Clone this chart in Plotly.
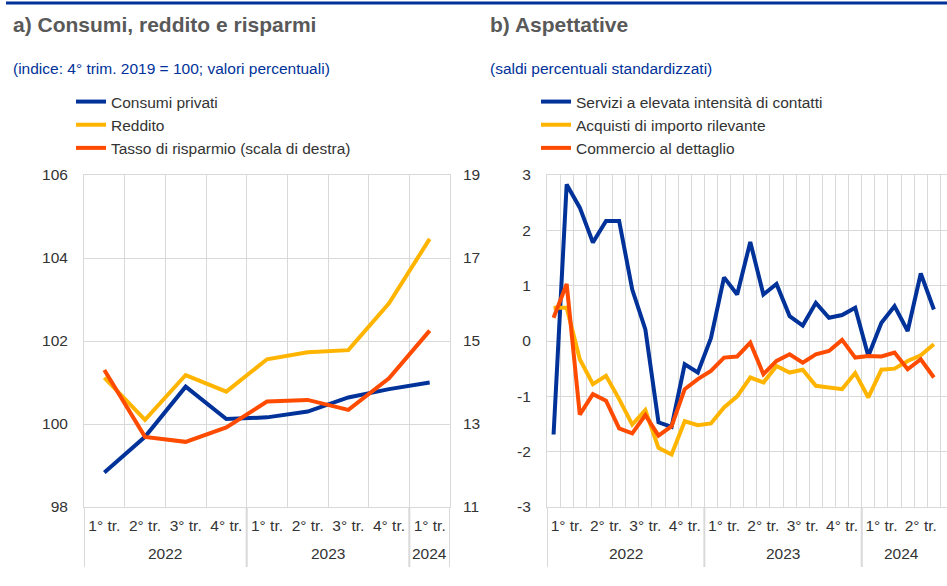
"""Consumi, reddito e risparmi / Aspettative: two panels on one page."""
from plotly import graph_objects as go

BLU = "#003299"
GIALLO = "#FFB400"
ARANCIO = "#FF4B00"
GRIGLIA = "#d9d9d9"
TESTO = "#333333"
FONT = "Arial, Liberation Sans, sans-serif"

# panel a) quarterly data
anni_a = ["2022"] * 4 + ["2023"] * 4 + ["2024"]
trim_a = ["1° tr.", "2° tr.", "3° tr.", "4° tr."] * 2 + ["1° tr."]
consumi = [98.83, 99.69, 100.90, 100.12, 100.16, 100.30, 100.64, 100.84, 101.00]
reddito = [101.12, 100.10, 101.18, 100.78, 101.56, 101.73, 101.78, 102.91, 104.46]
risparmio = [14.30, 12.69, 12.57, 12.92, 13.54, 13.58, 13.34, 14.10, 15.25]

# panel b) monthly data, Jan 2022 - Jun 2024
mesi = [f"{a}-{m:02d}" for a in (2022, 2023) for m in range(1, 13)] + [
    f"2024-{m:02d}" for m in range(1, 7)
]
servizi = [-1.69, 2.83, 2.41, 1.78, 2.17, 2.17, 0.93, 0.21, -1.47, -1.55,
           -0.42, -0.57, 0.05, 1.15, 0.84, 1.79, 0.84, 1.03, 0.45, 0.28,
           0.69, 0.42, 0.47, 0.60, -0.27, 0.33, 0.63, 0.18, 1.22, 0.57]
acquisti = [0.60, 0.60, -0.33, -0.78, -0.63, -1.05, -1.51, -1.25, -1.93, -2.05,
            -1.45, -1.52, -1.49, -1.20, -1.00, -0.66, -0.75, -0.45, -0.57, -0.52,
            -0.81, -0.84, -0.87, -0.58, -1.02, -0.52, -0.50, -0.36, -0.26, -0.06]
commercio = [0.42, 1.03, -1.33, -0.96, -1.08, -1.58, -1.67, -1.34, -1.71, -1.54,
             -0.87, -0.69, -0.54, -0.30, -0.28, -0.03, -0.60, -0.36, -0.24, -0.39,
             -0.24, -0.18, 0.02, -0.30, -0.27, -0.28, -0.21, -0.51, -0.33, -0.66]
anni_b = ["2022"] * 4 + ["2023"] * 4 + ["2024"] * 2
trim_b = ["1° tr.", "2° tr.", "3° tr.", "4° tr."] * 2 + ["1° tr.", "2° tr."]

tick_sx = [98, 100, 102, 104, 106]
tick_dx = [11, 13, 15, 17, 19]
tick_b = [-3, -2, -1, 0, 1, 2, 3]

W, H = 947, 586
dom_y = [1 - 507 / H, 1 - 175 / H]

fig = go.Figure()

x_a = list(range(len(trim_a)))
fig.add_trace(go.Scatter(x=x_a, y=consumi, name="Consumi privati", mode="lines",
                         line=dict(color=BLU, width=4)))
fig.add_trace(go.Scatter(x=x_a, y=reddito, name="Reddito", mode="lines",
                         line=dict(color=GIALLO, width=4)))
fig.add_trace(go.Scatter(x=x_a, y=risparmio, name="Tasso di risparmio (scala di destra)",
                         mode="lines", yaxis="y2", line=dict(color=ARANCIO, width=4)))

x_b = list(range(len(mesi)))
for nome, valori, colore in [
    ("Servizi a elevata intensità di contatti", servizi, BLU),
    ("Acquisti di importo rilevante", acquisti, GIALLO),
    ("Commercio al dettaglio", commercio, ARANCIO),
]:
    fig.add_trace(go.Scatter(x=x_b, y=valori, name=nome, mode="lines", xaxis="x3",
                             yaxis="y3", legend="legend2",
                             line=dict(color=colore, width=4)))

tick_font = dict(family=FONT, size=15.5, color=TESTO)
asse = dict(showgrid=True, gridcolor=GRIGLIA, gridwidth=1, zeroline=False,
            showline=True, linecolor=GRIGLIA, mirror=True, ticks="",
            tickfont=tick_font, automargin=False)
# grid on the period boundaries, quarter labels on the period centres
asse_x = dict(asse, showgrid=False, ticklabelstandoff=4, tickangle=0,
              minor=dict(tick0=-0.5, dtick=1, showgrid=True, gridcolor=GRIGLIA,
                         ticks=""))
legenda = dict(y=1 - 85 / H, xanchor="left", yanchor="top",
               font=dict(family=FONT, size=15.5, color=TESTO),
               bgcolor="rgba(0,0,0,0)", tracegroupgap=0)

range_b = [-0.5, 30]
fig.update_layout(
    width=W,
    height=H,
    margin=dict(l=0, r=0, t=0, b=0, autoexpand=False),
    paper_bgcolor="white",
    plot_bgcolor="white",
    font=dict(family=FONT, color=TESTO),
    xaxis=dict(asse_x, domain=[84 / W, 450 / W], anchor="y", range=[-0.5, 8.5],
               tickvals=x_a, ticktext=trim_a),
    yaxis=dict(asse, domain=dom_y, anchor="x", range=[98, 106],
               tickvals=tick_sx, ticktext=[str(v) for v in tick_sx],
               ticklabelstandoff=12),
    yaxis2=dict(overlaying="y", side="right", anchor="x", range=[11, 19],
                tickvals=tick_dx, ticktext=[str(v) for v in tick_dx],
                showgrid=False, zeroline=False, tickfont=tick_font,
                ticklabelstandoff=12, automargin=False),
    xaxis3=dict(asse_x, domain=[547 / W, 1], anchor="y3", range=range_b,
                tickvals=[3 * q + 1 for q in range(len(trim_b))], ticktext=trim_b),
    yaxis3=dict(asse, domain=dom_y, anchor="x3", range=[-3, 3],
                tickvals=tick_b, ticktext=[str(v) for v in tick_b],
                ticklabelstandoff=12),
    legend=dict(legenda, x=71 / W),
    legend2=dict(legenda, x=536 / W),
    showlegend=True,
)


def anni_asse(anni, passo, xref, fine, chiudi):
    """Year labels under the quarter labels and the dividers between years."""
    gruppi = []
    for i, a in enumerate(anni):
        if not gruppi or gruppi[-1][0] != a:
            gruppi.append([a, i, i])
        gruppi[-1][2] = i
    for a, i0, i1 in gruppi:
        x0 = i0 * passo - 0.5
        x1 = min((i1 + 1) * passo - 0.5, fine)
        fig.add_annotation(x=(x0 + x1) / 2, y=dom_y[0], xref=xref, yref="paper",
                           yshift=-46, yanchor="middle", showarrow=False, text=a,
                           font=tick_font)
        fig.add_shape(type="line", xref=xref, yref="paper", x0=x0, x1=x0,
                      y0=dom_y[0], y1=dom_y[0] - 60 / H,
                      line=dict(color=GRIGLIA, width=2))
    if chiudi:
        x1 = (gruppi[-1][2] + 1) * passo - 0.5
        fig.add_shape(type="line", xref=xref, yref="paper", x0=x1, x1=x1,
                      y0=dom_y[0], y1=dom_y[0] - 60 / H,
                      line=dict(color=GRIGLIA, width=2))


anni_asse(anni_a, 1, "x", 8.5, True)
anni_asse(anni_b, 3, "x3", range_b[1], False)

# top rule
fig.add_shape(type="line", xref="paper", yref="paper", x0=6 / W, x1=1,
              y0=1 - 3 / H, y1=1 - 3 / H, line=dict(color=BLU, width=3))

titoli = [
    (11, "a) Consumi, reddito e risparmi", "(indice: 4° trim. 2019 = 100; valori percentuali)"),
    (488, "b) Aspettative", "(saldi percentuali standardizzati)"),
]
for x0, titolo, sottotitolo in titoli:
    fig.add_annotation(x=x0 / W, y=1 - 25 / H, xref="paper", yref="paper",
                       xanchor="left", yanchor="middle", showarrow=False,
                       text=f"<b>{titolo}</b>",
                       font=dict(family=FONT, size=21, color="#595959"))
    fig.add_annotation(x=x0 / W, y=1 - 69 / H, xref="paper", yref="paper",
                       xanchor="left", yanchor="middle", showarrow=False,
                       text=sottotitolo, font=dict(family=FONT, size=15.5, color=BLU))

fig.write_html("out.html", config={"displayModeBar": False},
               post_script="document.body.style.margin = '0';")
